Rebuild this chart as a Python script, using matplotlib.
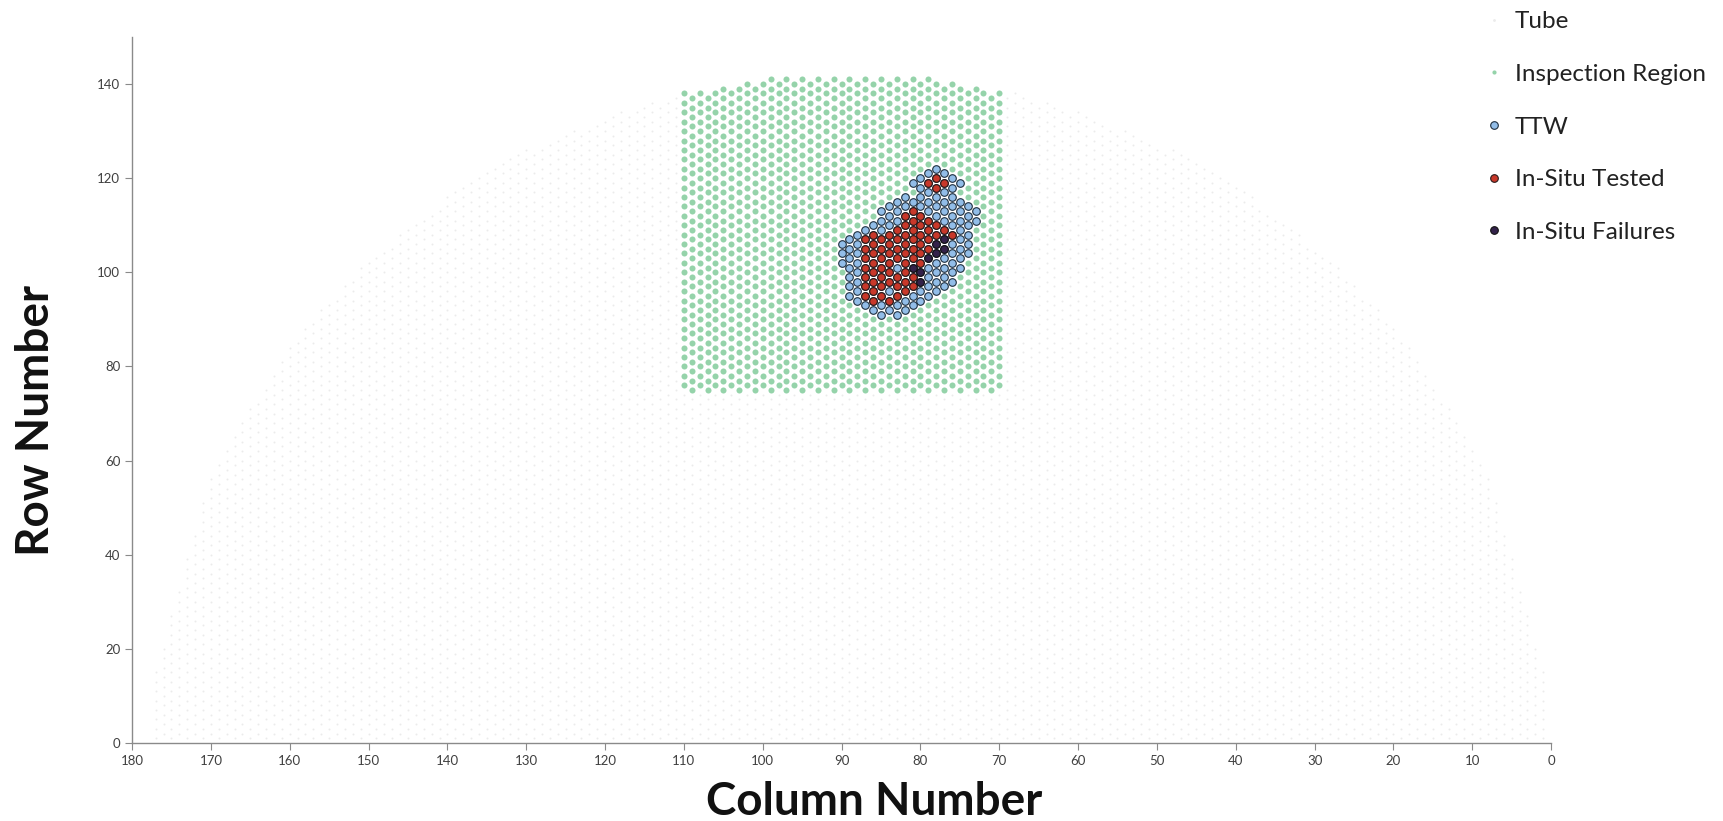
import numpy as np
import matplotlib
matplotlib.use("Agg")
import matplotlib.pyplot as plt
from matplotlib.lines import Line2D

plt.rcParams['font.family'] = ['Lato', 'DejaVu Sans']

# tubesheet outline (top row reached in each column)
outline_cols = [1, 8, 18, 28, 38, 48, 58, 68, 78, 89, 100, 110, 120, 130, 140, 150, 160, 170, 177]
outline_rows = [15, 57, 85, 103, 116, 126, 133, 138, 141, 142, 141, 138, 133, 126, 116, 103, 85, 57, 15]

# inspection region bounds
insp_cols = [70, 110]
insp_row_min = 75

# TTW patch: row, lowest column, highest column
ttw_rows = [122, 121, 120, 119, 118, 117, 116, 115, 114, 113, 112, 111, 110, 109, 108, 107,
            106, 105, 104, 103, 102, 101, 100, 99, 98, 97, 96, 95, 94, 93, 92, 91]
ttw_cmin = [78, 77, 76, 75, 76, 77, 76, 74, 74, 73, 74, 73, 74, 75, 74, 75,
            74, 75, 74, 75, 76, 75, 76, 77, 76, 77, 78, 79, 80, 81, 82, 83]
ttw_cmax = [78, 79, 80, 81, 80, 79, 82, 83, 84, 85, 85, 86, 86, 87, 88, 89,
            90, 89, 90, 89, 90, 89, 88, 89, 88, 89, 88, 89, 88, 87, 86, 85]

# in-situ tested: row, lowest column, highest column
ist_rows = [120, 119, 118, 113, 112, 111, 110, 109, 108, 107, 106, 105, 104, 103,
            102, 101, 100, 99, 98, 97, 96, 95, 94]
ist_cmin = [78, 77, 78, 80, 80, 78, 77, 76, 76, 76, 78, 78, 79, 79,
            80, 81, 80, 81, 81, 81, 82, 83, 84]
ist_cmax = [78, 79, 78, 81, 82, 82, 82, 84, 87, 87, 87, 87, 87, 87,
            87, 87, 87, 87, 86, 87, 86, 87, 86]

# TTW tubes left untested inside the tested patch
gap_cols = [83, 84]
gap_rows = [101, 96]

# in-situ failures
fail_cols = [78, 77, 78, 77, 79, 81, 80, 80]
fail_rows = [106, 107, 104, 105, 103, 101, 100, 98]


def top_row(c):
    return np.interp(c, outline_cols, outline_rows)


tube_c, tube_r = [], []
for c in range(1, 178):
    for r in range(1, int(top_row(c)) + 1):
        if (c + r) % 2 == 0:
            tube_c.append(c)
            tube_r.append(r)
tube_c = np.array(tube_c)
tube_r = np.array(tube_r)

m = (tube_c >= insp_cols[0]) & (tube_c <= insp_cols[1]) & (tube_r >= insp_row_min)
insp_c, insp_r = tube_c[m], tube_r[m]


def band(rows, cmin, cmax):
    cc, rr = [], []
    for r, a, b in zip(rows, cmin, cmax):
        for c in range(a, b + 1):
            if (c + r) % 2 == 0:
                cc.append(c)
                rr.append(r)
    return cc, rr


ttw_c, ttw_r = band(ttw_rows, ttw_cmin, ttw_cmax)
ist_c, ist_r = band(ist_rows, ist_cmin, ist_cmax)
skip = set(zip(gap_cols, gap_rows)) | set(zip(fail_cols, fail_rows))
ist = [(c, r) for c, r in zip(ist_c, ist_r) if (c, r) not in skip]
ist_c = [p[0] for p in ist]
ist_r = [p[1] for p in ist]

fig = plt.figure(figsize=(17.24, 8.21), dpi=100)
ax = fig.add_axes([0.0766, 0.095, 0.8231, 0.86])

ax.scatter(tube_c, tube_r, s=2, color='#ebebeb', linewidths=0, zorder=1)
ax.scatter(insp_c, insp_r, s=19, color='#95d3aa', linewidths=0, zorder=2)
ax.scatter(ttw_c, ttw_r, s=30, color='#92bde8', edgecolors='#1f2f3f', linewidths=0.8, zorder=3)
ax.scatter(ist_c, ist_r, s=30, color='#c8382a', edgecolors='#2a1a1a', linewidths=0.8, zorder=4)
ax.scatter(fail_cols, fail_rows, s=30, color='#33224a', edgecolors='#111111', linewidths=0.8, zorder=5)

ax.set_xlim(180, 0)
ax.set_ylim(0, 150)
ax.set_xticks(np.arange(180, -1, -10))
ax.set_yticks(np.arange(0, 141, 20))
for s in ['top', 'right']:
    ax.spines[s].set_visible(False)
for s in ['left', 'bottom']:
    ax.spines[s].set_color('#8a8a8a')
    ax.spines[s].set_linewidth(1)
ax.tick_params(direction='out', length=5, color='#8a8a8a', labelsize=9.5, labelcolor='#404040')

fig.text(874 / 1724, 1 - 802 / 821, 'Column Number', ha='center', va='center',
         fontsize=33, fontweight='bold', color='#111111')
fig.text(36 / 1724, 1 - 420 / 821, 'Row Number', ha='center', va='center', rotation=90,
         fontsize=33, fontweight='bold', color='#111111')

handles = [
    Line2D([], [], ls='none', marker='o', ms=2, color='#ebebeb', mec='none'),
    Line2D([], [], ls='none', marker='o', ms=3, color='#95d3aa', mec='none'),
    Line2D([], [], ls='none', marker='o', ms=5.5, color='#92bde8', mec='#1f2f3f', mew=0.8),
    Line2D([], [], ls='none', marker='o', ms=5.5, color='#c8382a', mec='#2a1a1a', mew=0.8),
    Line2D([], [], ls='none', marker='o', ms=5.5, color='#33224a', mec='#111111', mew=0.8),
]
labels = ['Tube', 'Inspection Region', 'TTW', 'In-Situ Tested', 'In-Situ Failures']
fig.legend(handles, labels, loc='upper left', bbox_to_anchor=(1470 / 1724, 1.004),
           frameon=False, fontsize=17.5, labelspacing=1.3, handlelength=0.8,
           handletextpad=0.45, borderaxespad=0.2, labelcolor='#222222')

fig.savefig('out.png', dpi=100, facecolor='white')
